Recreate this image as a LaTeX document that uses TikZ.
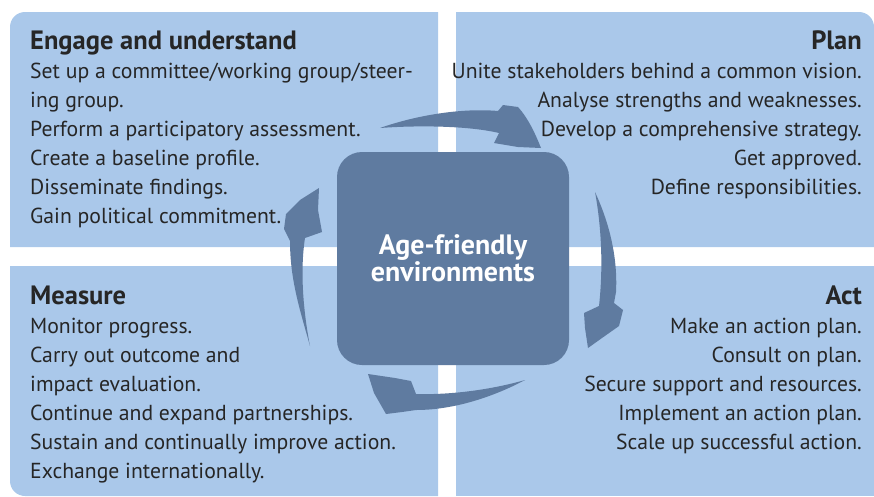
\documentclass[tikz,border=0pt]{standalone}
\usepackage{fontspec}
\setmainfont{PT Sans}
\definecolor{panelblue}{HTML}{AAC8EA}
\definecolor{hubblue}{HTML}{5F7BA0}
\newcommand{\steptitle}[1]{{\fontsize{26.5}{29}\selectfont\bfseries #1}}
\tikzset{
  panel/.style={fill=panelblue},
  steptext/.style={inner sep=0pt,font=\fontsize{21.7}{29}\selectfont,text=black!85},
  hub/.style={fill=hubblue,rounded corners=25pt,minimum width=232pt,minimum height=213pt,
    text=white,align=center,font=\fontsize{28}{27}\selectfont\bfseries},
  brush/.style={fill=hubblue,line join=round}
}
\begin{document}
\begin{tikzpicture}[x=1pt,y=-1pt,line cap=round,line join=round]
		\useasboundingbox (0,0) rectangle (874,496);
		% four quarters
		\fill [panel] (10,247) -- (10,27) arc[start angle=180,end angle=270,radius=15] -- (438,12) -- (438,247) -- cycle;
		\fill [panel] (456,247) -- (456,12) -- (859,12) arc[start angle=270,end angle=360,radius=15] -- (874,247) -- cycle;
		\fill [panel] (10,266) -- (438,266) -- (438,496) -- (25,496) arc[start angle=90,end angle=180,radius=15] -- cycle;
		\fill [panel] (456,266) -- (874,266) -- (874,496) -- (456,496) -- cycle;
		% texts (base = last line)
		\node [steptext,anchor=base west,align=left] (engage) at (30,223) {\steptitle{Engage and understand}\\
			Set up a committee/working group/steer-\\ ing group.\\ Perform a participatory assessment.\\
			Create a baseline profile.\\ Disseminate findings.\\ Gain political commitment.};
		\node [steptext,anchor=base east,align=right] (plan) at (862,194) {\steptitle{Plan}\\
			Unite stakeholders behind a common vision.\\ Analyse strengths and weaknesses.\\
			Develop a comprehensive strategy.\\ Get approved.\\ Define responsibilities.};
		\node [steptext,anchor=base west,align=left] (measure) at (30,478) {\steptitle{Measure}\\
			Monitor progress.\\ Carry out outcome and\\ impact evaluation.\\
			Continue and expand partnerships.\\ Sustain and continually improve action.\\ Exchange internationally.};
		\node [steptext,anchor=base east,align=right] (act) at (862,449) {\steptitle{Act}\\
			Make an action plan.\\ Consult on plan.\\ Secure support and resources.\\
			Implement an action plan.\\ Scale up successful action.};
		% centre
		\node [hub] (hub) at (453,258.5) {Age-friendly\\environments};
		% brush arrows
		\fill [brush] (380,128) .. controls (420,114) and (465,108) .. (498,111) -- (503,105) -- (518,107)
			.. controls (528,118) and (535,133) .. (541,148) -- (518,147) -- (494,143) -- (499,133)
			.. controls (470,126) and (420,125) .. cycle;
		\fill [brush] (595,192) .. controls (608,220) and (618,255) .. (616,292) -- (614,303) -- (623,310)
			-- (619,326) -- (602,338) -- (588,348) -- (585,328) -- (584,313) -- (599,306)
			.. controls (603,270) and (602,230) .. cycle;
		\fill [brush] (525,380) .. controls (490,390) and (450,395) .. (416,394) -- (411,381) -- (395,378)
			-- (368,374) -- (374,393) -- (386,414) -- (402,412) -- (416,410)
			.. controls (455,410) and (495,396) .. cycle;
		\fill [brush] (310,346) .. controls (300,310) and (290,280) .. (290,241) -- (284,229) -- (286,214)
			-- (300,200) -- (319,188) -- (318,210) -- (322,232) -- (305,238)
			.. controls (300,270) and (303,310) .. cycle;
	\end{tikzpicture}
\end{document}
